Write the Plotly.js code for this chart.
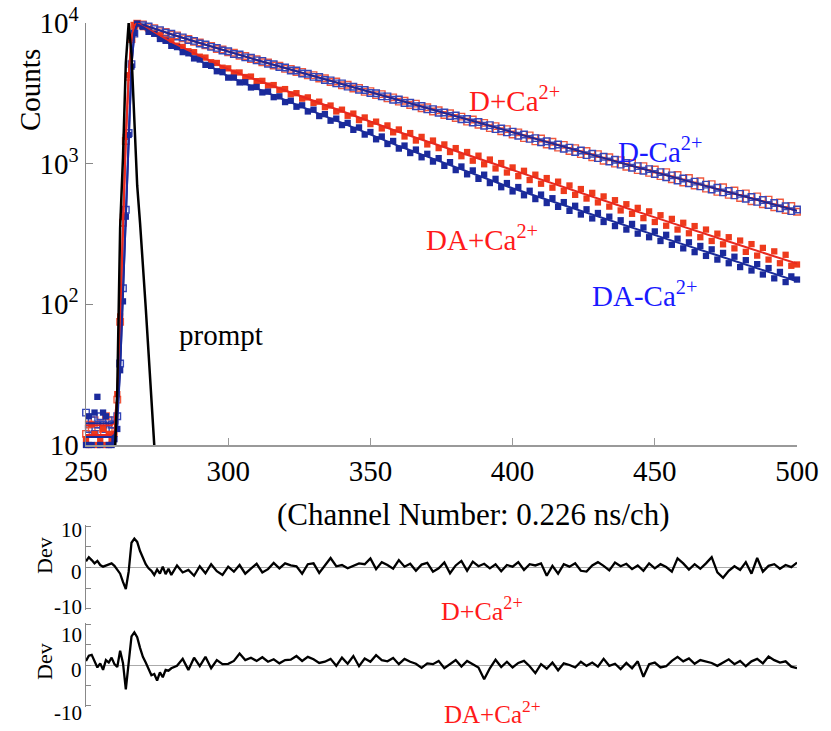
<!DOCTYPE html>
<html>
<head>
<meta charset="utf-8">
<script src="https://cdn.plot.ly/plotly-3.0.1.min.js"></script>
<style>html,body{margin:0;padding:0;background:#fff;}#chart{width:831px;height:731px;}</style>
</head>
<body>
<div id="chart"></div>
<script>
// ---------- DATA ----------
// decay sampling channels: 250..267 every channel, then 268..500 every 2 channels
const decayChannels = [];
for (let c = 250; c < 268; c++) decayChannels.push(c);
for (let c = 268; c <= 500; c += 2) decayChannels.push(c);

const dPlusCa = [12,14,13,15,12,14,13,16,13,14,15,21,75,380,1450,4150,7700,9550,
9900,9780,9310,9200,8760,8640,8250,8160,7780,7710,
7350,7260,6950,6870,6540,6480,6180,6140,5850,5830,
5540,5530,5260,5240,4990,4980,4720,4720,4480,4490,
4240,4260,4030,4050,3810,3840,3610,3640,3420,3460,
3240,3280,3070,3120,2910,2960,2760,2800,2610,2670,
2480,2520,2350,2400,2220,2280,2110,2160,1990,2060,
1890,1950,1790,1850,1700,1760,1610,1670,1520,1590,
1440,1510,1370,1430,1300,1360,1230,1290,1170,1230,
1110,1170,1050,1110,1000,1060,950,1010,900,960,
860,910,815,870,775,830,735,790,700,750,
665,715,630,680,600,645,570,615,540,585,
515,555,490,530,468,500,455];

const dMinusCa = [17,13,15,12,14,16,14,13,15,14,14,16,38,130,470,1650,5100,8400,
10050,9650,9450,9050,8900,8520,8380,8010,7900,7580,
7460,7150,7040,6760,6650,6380,6290,6020,5970,5700,
5660,5420,5380,5130,5090,4870,4830,4600,4590,4370,
4360,4140,4130,3930,3910,3720,3720,3530,3520,3350,
3340,3180,3170,3010,3010,2850,2860,2700,2710,2560,
2570,2430,2440,2300,2310,2180,2200,2070,2080,1960,
1980,1860,1880,1760,1780,1670,1690,1580,1610,1500,
1520,1420,1445,1345,1370,1275,1300,1210,1240,1150,
1175,1095,1120,1035,1065,985,1010,935,960,890,
915,845,870,800,825,760,785,725,745,690,
710,655,675,625,640,595,610,563,580,535,
552,508,525,482,498,460,472];

const daPlusCa = [11,10,14,12,10,11,13,10,12,11,12,23,82,420,1550,4250,7800,9650,
9950,9350,9050,8420,8180,7620,7420,6900,6760,6300,
6200,5760,5680,5260,5200,4810,4760,4440,4450,4130,
4160,3860,3880,3590,3620,3350,3390,3110,3170,2900,
2960,2700,2760,2520,2590,2350,2420,2190,2270,2040,
2130,1910,1990,1780,1870,1670,1750,1560,1650,1460,
1550,1370,1460,1290,1370,1210,1290,1130,1210,1050,
1140,990,1070,925,1010,865,940,815,890,765,
835,720,790,675,745,640,700,600,660,565,
620,530,585,495,550,465,515,440,485,410,
458,385,430,362,405,340,380,320,360,300,
340,282,318,267,300,250,284,236,268,222,
252,208,238,196,225,188,192];

const daMinusCa = [10,16,10,17,22,10,17,16,10,10,11,13,34,105,420,1600,4900,8500,
9900,9420,8650,8380,7700,7470,6880,6740,6210,6090,
5600,5500,5040,4960,4540,4470,4090,4090,3780,3790,
3480,3510,3210,3250,2970,3010,2740,2800,2540,2600,
2350,2420,2180,2250,2020,2090,1880,1950,1740,1810,
1610,1680,1490,1560,1380,1450,1280,1345,1190,1260,
1110,1175,1035,1095,965,1025,900,955,840,895,
780,835,728,780,680,728,635,682,596,642,
560,603,525,568,493,533,462,502,435,474,
408,446,385,420,360,396,340,373,318,352,
300,330,282,312,265,293,250,276,235,260,
221,246,208,232,196,218,184,206,174,193,
163,181,153,170,144,158,150];

// fitted curves
const fitChannels = [250,259,260,261,262,263,264,265,266,267,268,270,275,280,
290,300,310,320,330,340,350,360,370,380,390,400,410,420,430,440,450,460,470,480,490,500];
const fitDPlusCa = [13.8,13.8,14.5,22,80,400,1500,4200,7800,9600,10000,9705,8974,8318,
7203,6237,5463,4786,4192,3672,3217,2818,2469,2162,1894,1659,1453,1273,1122,988,871,767,676,596,525,463];
const fitDMinusCa = [14.3,14.3,14.6,16,35,120,450,1700,5000,8500,9800,9705,8974,8318,
7203,6237,5463,4786,4192,3672,3217,2818,2469,2162,1894,1659,1453,1273,1122,988,871,767,676,596,525,463];
const fitDAPlusCa = [11.8,11.8,12.5,22,80,400,1500,4200,7800,9600,10000,9441,8299,7345,
5847,4677,3936,3311,2786,2344,1984,1679,1437,1230,1047,891,767,661,566,484,415,355,305,263,226,195];
const fitDAMinusCa = [11.4,11.4,11.8,14,35,120,450,1700,5000,8500,9800,9333,8035,6998,
5402,4169,3428,2818,2344,1950,1613,1334,1122,944,794,668,572,490,421,361,310,267,230,198,170,146];

// instrument response (prompt)
const promptChannels = [260,261,262,263,264,265,266,267,268,269,270,271,272,273,274,275];
const promptCounts = [7,25,350,1100,5200,10000,6000,2000,700,380,200,95,45,20,10,6];

// residuals: 250..280 every channel, then 282..500 every 2 channels
const residChannels = [];
for (let c = 250; c <= 280; c++) residChannels.push(c);
for (let c = 282; c <= 500; c += 2) residChannels.push(c);

const devDPlusCa = [1.5,2.5,1.8,1.0,1.6,0.6,0.2,0.5,0.9,1.0,0.4,-0.5,-1.5,-3.5,-5.2,-1.0,6.0,7.0,6.2,4.0,2.2,0.8,-0.2,-0.8,-1.8,-0.5,-1.5,0.2,-1.6,-0.3,-1.8,
0.5,-1.2,-0.6,-2.0,0.3,-1.4,0.8,-0.9,-1.8,0.2,
-1.0,0.6,-1.5,-0.3,0.9,-1.2,-0.4,1.1,-0.2,1.0,
0.5,0.3,-1.5,0.8,1.0,-1.3,0.5,2.3,0.3,0.6,
-0.2,0.4,1.0,0.8,2.2,-0.4,1.3,0.6,-0.3,1.8,
0.2,0.9,-0.8,0.7,1.1,-1.0,-0.2,1.2,-1.4,0.5,
1.6,-0.8,1.4,0.3,0.9,-0.2,0.8,-0.9,0.6,0.2,
1.3,-0.6,0.8,0.5,1.0,-2.0,0.4,-1.5,0.8,0.2,
1.0,-0.8,-1.0,0.5,1.3,0.4,-0.7,1.2,0.3,0.9,
-0.4,0.5,-0.8,1.0,-0.2,0.8,0.1,-1.0,2.2,1.0,
-0.5,0.8,-0.3,1.0,2.5,-1.2,-2.5,-0.8,0.3,-0.6,
1.3,-1.5,2.3,-1.0,0.4,0.8,-0.3,0.6,0.1,1.2];

const devDAPlusCa = [1.0,2.3,2.5,0.8,-0.6,0.4,-1.2,1.2,0.6,1.8,0.2,-0.5,3.5,0.5,-6.0,0.5,7.0,8.0,6.8,4.2,2.0,0.6,-1.0,-2.5,-2.2,-3.8,-1.8,-3.0,-1.2,-1.4,-0.8,
-0.2,1.5,-1.2,1.8,-0.3,2.0,-0.8,1.2,0.2,0.3,
1.0,2.8,1.2,1.8,1.0,1.9,0.8,1.4,0.4,1.2,
1.3,2.2,1.0,2.0,1.4,0.5,0.8,1.5,-0.2,1.8,
0.3,2.2,-0.3,1.6,0.8,2.4,1.2,0.9,1.7,0.2,
1.5,0.8,0.3,-0.7,0.4,0.2,1.0,-0.8,0.3,1.2,
-0.4,1.0,0.2,-0.6,-3.5,-0.8,1.3,-0.5,0.8,-0.6,
0.5,1.0,-0.3,-2.0,0.2,-0.9,0.6,-1.3,0.4,0.0,
-0.6,0.8,-0.2,0.6,-0.4,1.5,-0.2,0.3,-1.0,0.5,
-0.8,0.9,-2.9,0.2,0.6,-0.6,-0.3,1.0,2.0,0.9,
1.6,0.3,1.2,0.8,0.5,-0.2,0.7,1.4,0.2,1.0,
-0.3,0.9,1.5,0.4,2.1,1.2,0.6,0.9,-0.4,-0.8];

const xTicks = [250,300,350,400,450,500];
const yTickVals = [10,100,1000,10000];
const yTickText = ['10','10<sup>2</sup>','10<sup>3</sup>','10<sup>4</sup>'];
const devTickVals = [-10,-5,0,5,10];
const devLabels = ['10','0','-10'];

// ---------- STYLE ----------
const FONT = 'Liberation Serif, Times New Roman, serif';
const RED_M = '#ee3a1c', RED_O = '#f0583e', BLUE_M = '#1b2a9c', BLUE_O = '#3446b8';
const RED_T = '#ff1a1a', BLUE_T = '#1a1aff';
const W = 831, H = 731;
const px = v => v / W, py = v => 1 - v / H;

const traces = [
  {x: decayChannels, y: dPlusCa, mode: 'markers', type: 'scatter', cliponaxis: false,
   marker: {symbol: 'square-open', size: 6.5, color: RED_O, line: {width: 1.4, color: RED_O}}},
  {x: decayChannels, y: dMinusCa, mode: 'markers', type: 'scatter', cliponaxis: false,
   marker: {symbol: 'square-open', size: 6.5, color: BLUE_O, line: {width: 1.4, color: BLUE_O}}},
  {x: decayChannels, y: daPlusCa, mode: 'markers', type: 'scatter', cliponaxis: false,
   marker: {symbol: 'square', size: 6.3, color: RED_M}},
  {x: decayChannels, y: daMinusCa, mode: 'markers', type: 'scatter', cliponaxis: false,
   marker: {symbol: 'square', size: 6.3, color: BLUE_M}},
  {x: fitChannels, y: fitDPlusCa, mode: 'lines', type: 'scatter', line: {color: '#e8281e', width: 2}},
  {x: fitChannels, y: fitDMinusCa, mode: 'lines', type: 'scatter', line: {color: '#1a2a9a', width: 2}},
  {x: fitChannels, y: fitDAPlusCa, mode: 'lines', type: 'scatter', line: {color: '#e8281e', width: 2}},
  {x: fitChannels, y: fitDAMinusCa, mode: 'lines', type: 'scatter', line: {color: '#1a2a9a', width: 2}},
  {x: promptChannels, y: promptCounts, mode: 'lines', type: 'scatter', line: {color: '#000', width: 2.5}},
  {x: residChannels, y: devDPlusCa, xaxis: 'x2', yaxis: 'y2', mode: 'lines', type: 'scatter',
   line: {color: '#000', width: 2.3}},
  {x: residChannels, y: devDAPlusCa, xaxis: 'x3', yaxis: 'y3', mode: 'lines', type: 'scatter',
   line: {color: '#000', width: 2.3}}
];

const xDom = [px(86), px(797)];
const devAxis = (dom, anchor) => ({
  domain: dom, anchor: anchor, range: [-10.3, 10.3],
  tickmode: 'array', tickvals: devTickVals, showticklabels: false,
  ticks: 'inside', ticklen: 5, tickcolor: '#888', tickwidth: 1,
  showline: true, linecolor: '#888', linewidth: 1.5,
  showgrid: false, zeroline: true, zerolinecolor: '#aaa', zerolinewidth: 1
});
const hiddenX = anchor => ({
  domain: xDom, anchor: anchor, range: [250, 500], showline: false, showticklabels: false,
  ticks: '', showgrid: false, zeroline: false
});

const ann = (text, x, y, size, color, angle, xa) => ({
  text: text, x: px(x), y: py(y), xref: 'paper', yref: 'paper', showarrow: false,
  xanchor: xa || 'center', yanchor: 'middle', textangle: angle || 0,
  font: {family: FONT, size: size, color: color}
});

const annotations = [
  ann('Counts', 30, 90, 29, '#000', -90),
  ann('(Channel Number: 0.226 ns/ch)', 473, 514, 31, '#000'),
  ann('prompt', 221, 335, 29, '#000'),
  ann('D+Ca<sup>2+</sup>', 514, 99, 29, RED_T),
  ann('D-Ca<sup>2+</sup>', 660, 150, 29, BLUE_T),
  ann('DA+Ca<sup>2+</sup>', 482, 238, 29, RED_T),
  ann('DA-Ca<sup>2+</sup>', 644, 294, 29, BLUE_T),
  ann('Dev', 44, 556, 22, '#000', -90),
  ann('Dev', 44, 662, 22, '#000', -90),
  ann('D+Ca<sup>2+</sup>', 482, 609, 26, RED_T),
  ann('DA+Ca<sup>2+</sup>', 492, 712, 25, RED_T)
];
// residual tick labels (placed as in the reference)
const devLabelY1 = [530, 572, 607];
const devLabelY2 = [635, 670, 713];
devLabels.forEach((t, i) => {
  annotations.push(ann(t, 84, devLabelY1[i], 21, '#000', 0, 'right'));
  annotations.push(ann(t, 84, devLabelY2[i], 21, '#000', 0, 'right'));
});

const layout = {
  width: W, height: H,
  margin: {l: 0, r: 0, t: 0, b: 0},
  paper_bgcolor: '#fff', plot_bgcolor: '#fff',
  showlegend: false,
  xaxis: {
    domain: xDom, anchor: 'y', range: [250, 500],
    tickmode: 'array', tickvals: xTicks,
    ticks: 'inside', ticklen: 7, tickcolor: '#999', tickwidth: 1,
    showline: true, linecolor: '#999', linewidth: 1.5,
    showgrid: false, zeroline: false,
    tickfont: {family: FONT, size: 29, color: '#000'}
  },
  yaxis: {
    domain: [py(445), py(23)], anchor: 'x', type: 'log', range: [1, 4],
    tickmode: 'array', tickvals: yTickVals, ticktext: yTickText,
    ticks: 'inside', ticklen: 7, tickcolor: '#888', tickwidth: 1,
    showline: true, linecolor: '#888', linewidth: 1.5,
    showgrid: false, zeroline: false,
    tickfont: {family: FONT, size: 29, color: '#000'}
  },
  xaxis2: hiddenX('y2'),
  yaxis2: devAxis([py(610), py(525)], 'x2'),
  xaxis3: hiddenX('y3'),
  yaxis3: devAxis([py(707), py(623)], 'x3'),
  annotations: annotations
};

Plotly.newPlot('chart', traces, layout, {displayModeBar: false, staticPlot: true});
</script>
</body>
</html>
